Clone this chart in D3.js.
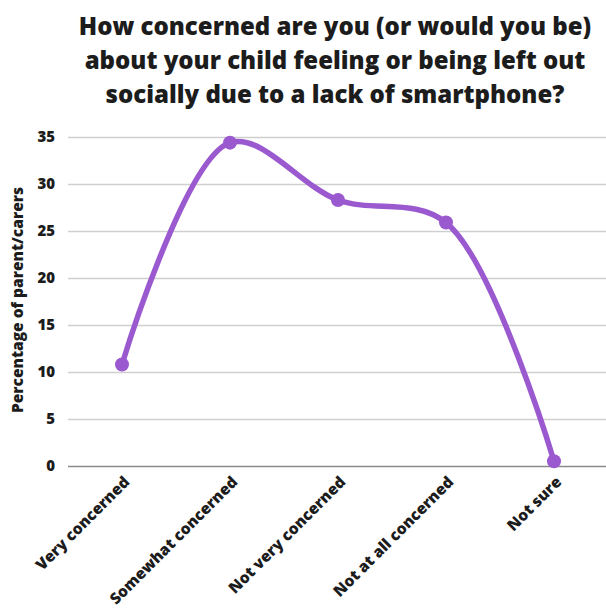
<!DOCTYPE html>
<html>
<head>
<meta charset="utf-8">
<script src="https://cdn.jsdelivr.net/npm/d3@7"></script>
<style>
  html, body { margin: 0; padding: 0; background: #fff; }
  svg { display: block; font-family: "Open Sans", "Noto Sans", sans-serif; }
</style>
</head>
<body>
<svg id="chart" width="606" height="608"></svg>
<script>
// Survey responses: share of parents/carers per level of concern
const categories = ["Very concerned", "Somewhat concerned", "Not very concerned", "Not at all concerned", "Not sure"];
const values = [10.8, 34.4, 28.3, 25.9, 0.5];
const yTicks = [0, 5, 10, 15, 20, 25, 30, 35];
const titleLines = [
  "How concerned are you (or would you be)",
  "about your child feeling or being left out",
  "socially due to a lack of smartphone?"
];
const yAxisTitle = "Percentage of parent/carers";

const width = 606, height = 608;
const margin = { top: 137, right: -2, bottom: 142, left: 68 };
const ink = "#1c1c1c";
const purple = "#9b59cf";
const weight = 800;

const svg = d3.select("#chart");

const x = d3.scalePoint()
  .domain(categories)
  .range([margin.left, width - margin.right])
  .padding(0.5);

const y = d3.scaleLinear()
  .domain([0, 35])
  .range([height - margin.bottom, margin.top]);

// Title
const title = svg.append("text")
  .attr("text-anchor", "middle")
  .attr("font-size", 24)
  .attr("font-weight", weight)
  .attr("fill", ink);
titleLines.forEach((line, i) => {
  title.append("tspan")
    .attr("x", 335)
    .attr("y", 35 + i * 34)
    .text(line);
});

// Horizontal gridlines and y tick labels
const yAxis = d3.axisLeft(y)
  .tickValues(yTicks)
  .tickSize(-(width - margin.left))
  .tickPadding(13);

const gy = svg.append("g")
  .attr("transform", `translate(${margin.left},0)`)
  .call(yAxis);
gy.select(".domain").remove();
gy.selectAll(".tick line")
  .attr("stroke", d => d === 0 ? "#8a8a8a" : "#cfcfcf")
  .attr("stroke-width", 1.5);
gy.selectAll(".tick text")
  .attr("font-family", "Open Sans, sans-serif")
  .attr("font-size", 15)
  .attr("font-weight", weight)
  .attr("fill", ink);

// Y axis title
svg.append("text")
  .attr("transform", `translate(23,300) rotate(-90)`)
  .attr("text-anchor", "middle")
  .attr("font-size", 15.5)
  .attr("font-weight", weight)
  .attr("fill", ink)
  .text(yAxisTitle);

// Rotated category labels
const xAxis = d3.axisBottom(x).tickSize(0).tickPadding(0);
const gx = svg.append("g")
  .attr("transform", `translate(0,${y(0)})`)
  .call(xAxis);
gx.select(".domain").remove();
gx.selectAll(".tick text")
  .attr("font-family", "Open Sans, sans-serif")
  .attr("font-size", 15.5)
  .attr("font-weight", weight)
  .attr("fill", ink)
  .attr("text-anchor", "end")
  .attr("dy", 0)
  .attr("y", 0)
  .attr("transform", "translate(8,17) rotate(-45)");

// Smoothed line through the responses
const points = categories.map((c, i) => [x(c), y(values[i])]);
const line = d3.line().curve(d3.curveCatmullRom.alpha(0.5));

svg.append("path")
  .attr("d", line(points))
  .attr("fill", "none")
  .attr("stroke", purple)
  .attr("stroke-width", 5.5)
  .attr("stroke-linecap", "round");

svg.append("g")
  .selectAll("circle")
  .data(points)
  .join("circle")
  .attr("cx", d => d[0])
  .attr("cy", d => d[1])
  .attr("r", 7)
  .attr("fill", purple);
</script>
</body>
</html>
